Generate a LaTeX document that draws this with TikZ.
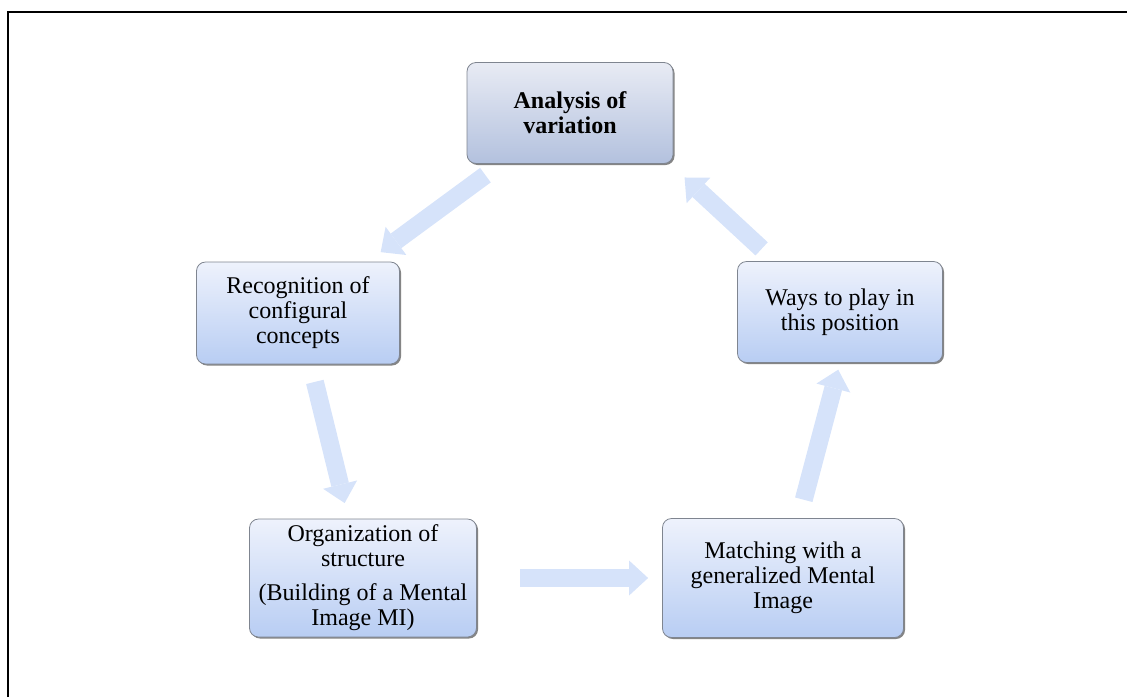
\documentclass[tikz,border=0pt]{standalone}
\usepackage{fontspec}
\setmainfont{Liberation Serif}
\usetikzlibrary{positioning,arrows.meta,shadows}
\definecolor{BoxTop}{HTML}{EEF2FC}
\definecolor{BoxBottom}{HTML}{B8CDF3}
\definecolor{HeadTop}{HTML}{E8EBF4}
\definecolor{HeadBottom}{HTML}{B3C1DE}
\definecolor{BoxEdge}{HTML}{7F8590}
\definecolor{FlowFill}{HTML}{D6E3FA}

\begin{document}
\begin{tikzpicture}[x=1pt, y=-1pt,
  stage/.style={draw=BoxEdge, line width=0.8pt, rounded corners=9pt,
    top color=BoxTop, bottom color=BoxBottom, align=center,
    font=\fontsize{24}{25}\selectfont, inner sep=4pt,
    drop shadow={shadow xshift=1.5pt, shadow yshift=-1.5pt, fill=black!60, opacity=0.8}},
  flow/.style={FlowFill, line width=18pt,
    -{Triangle[width=35pt, length=19pt, line width=0pt]}}]
  \useasboundingbox (0,0) rectangle (1127,697);
  % page frame, only left and top edges fall inside
  \draw[line width=2pt] (8,697) |- (1127,12);
  % the five stages
  \node[stage, minimum width=206pt, minimum height=101pt,
    top color=HeadTop, bottom color=HeadBottom,
    font=\fontsize{24}{25}\selectfont\bfseries] (ana) at (570,113) {Analysis of\\variation};
  \node[stage, minimum width=203pt, minimum height=102pt] (rec) at (298,313)
    {Recognition of\\configural\\concepts};
  \node[stage, minimum width=205pt, minimum height=101pt] (ways) at (840,312)
    {Ways to play in\\this position};
  \node[stage, minimum width=227pt, minimum height=118pt] (org) at (363,578)
    {Organization of\\structure\\[9pt](Building of a Mental\\Image MI)};
  \node[stage, minimum width=241pt, minimum height=119pt] (match) at (783,578)
    {Matching with a\\generalized Mental\\Image};
  \coordinate (up) at ([xshift=-105pt]match.north east);
  % cycle arrows
  \draw[flow, shorten <=19pt, shorten >=16pt] (ana) -- (rec);
  \draw[flow, shorten <=18pt, shorten >=16pt] (rec) -- (org);
  \draw[flow, shorten <=43pt, shorten >=14pt] (org) -- (match);
  \draw[flow, shorten <=19pt, shorten >=7pt] (up) -- (ways.south);
  \draw[flow, shorten <=18pt, shorten >=20pt] (ways.142) -- (ana.-27.5);
\end{tikzpicture}
\end{document}
